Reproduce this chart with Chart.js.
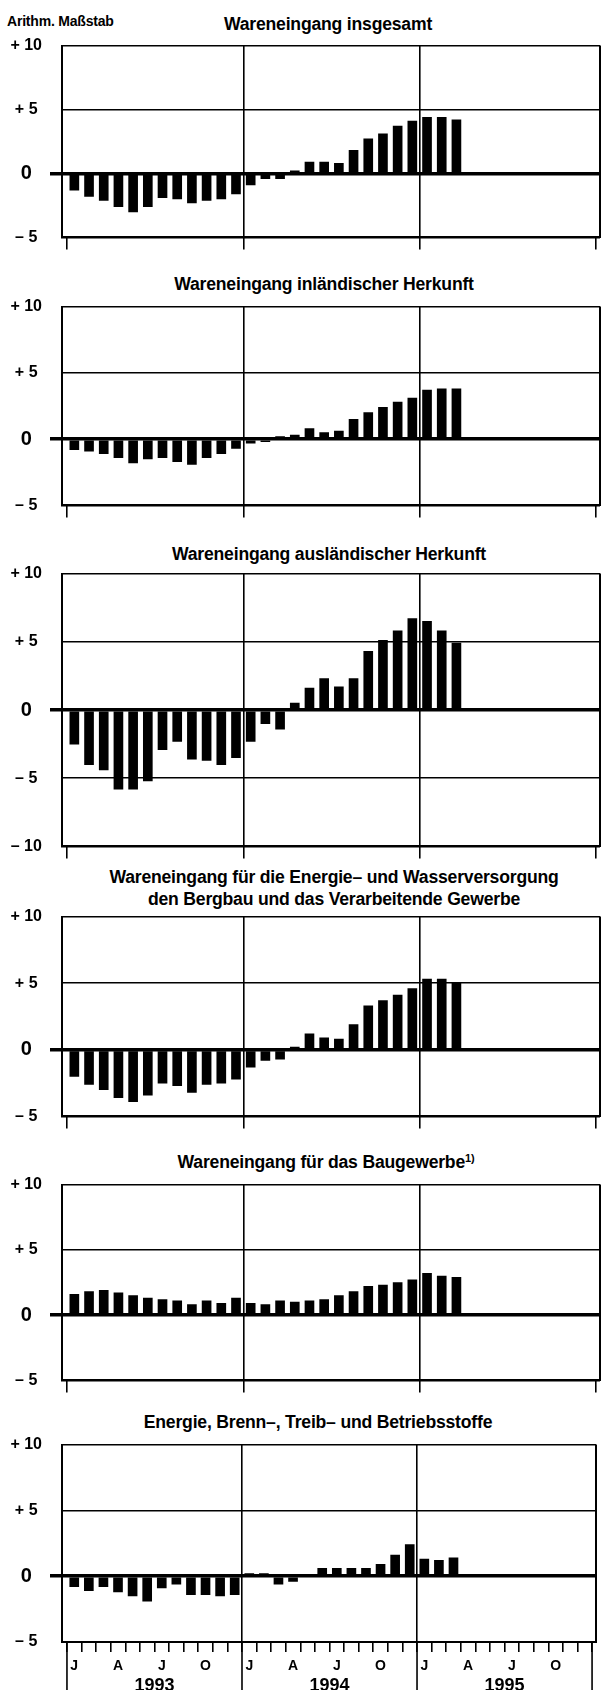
<!DOCTYPE html>
<html lang="de">
<head>
<meta charset="UTF-8">
<title>Wareneingang - Veränderung gegenüber Vorjahr</title>
<script src="https://cdn.jsdelivr.net/npm/chart.js"></script>
<style>
    html, body {
        margin: 0;
        padding: 0;
        background: #fff;
        overflow: hidden;
    }
    body {
        position: relative;
        width: 602px;
        height: 1690px;
        font-family: "Liberation Sans", Arial, sans-serif;
        color: #000;
    }
    .titel {
        position: absolute;
        transform: translate(-50%, -50%);
        font-weight: bold;
        font-size: 17.6px;
        letter-spacing: -0.2px;
        line-height: 21.7px;
        text-align: center;
        white-space: nowrap;
    }
    .titel sup {
        font-size: 11px;
        vertical-align: 6px;
        line-height: 0;
    }
    .massstab {
        position: absolute;
        left: 7px;
        top: 13px;
        font-weight: bold;
        font-size: 14px;
        letter-spacing: -0.2px;
    }
    .panel {
        position: absolute;
        left: 0;
    }
</style>
</head>
<body>
<div class="massstab">Arithm. Maßstab</div>

<script>
// Monate (Kategorien)
const monate = [
    '1993-01', '1993-02', '1993-03', '1993-04', '1993-05', '1993-06',
    '1993-07', '1993-08', '1993-09', '1993-10', '1993-11', '1993-12',
    '1994-01', '1994-02', '1994-03', '1994-04', '1994-05', '1994-06',
    '1994-07', '1994-08', '1994-09', '1994-10', '1994-11', '1994-12',
    '1995-01', '1995-02', '1995-03'
];
const jahre = ['1993', '1994', '1995'];
const monatsBeschriftung = ['J', 'A', 'J', 'O'];

// Veränderung gegenüber Vorjahr in %
const insgesamt = [-1.3, -1.8, -2.1, -2.6, -3.0, -2.6, -1.9, -2.0, -2.3, -2.1, -2.0, -1.6,
                   -0.9, -0.4, -0.4, 0.2, 0.9, 0.9, 0.8, 1.8, 2.7, 3.1, 3.7, 4.1,
                   4.4, 4.4, 4.2];
const inland = [-0.8, -0.9, -1.1, -1.4, -1.8, -1.5, -1.4, -1.7, -1.9, -1.4, -1.1, -0.7,
                -0.3, -0.2, 0.2, 0.3, 0.8, 0.5, 0.6, 1.5, 2.0, 2.4, 2.8, 3.1,
                3.7, 3.8, 3.8];
const ausland = [-2.5, -4.0, -4.4, -5.8, -5.8, -5.2, -2.9, -2.3, -3.6, -3.7, -4.0, -3.5,
                 -2.3, -1.0, -1.4, 0.5, 1.6, 2.3, 1.7, 2.3, 4.3, 5.1, 5.8, 6.7,
                 6.5, 5.8, 4.9];
const energieBergbau = [-2.0, -2.6, -3.0, -3.6, -3.9, -3.4, -2.5, -2.7, -3.2, -2.6, -2.5, -2.2,
                        -1.3, -0.8, -0.7, 0.2, 1.2, 0.9, 0.8, 1.9, 3.3, 3.7, 4.1, 4.6,
                        5.3, 5.3, 5.0];
const baugewerbe = [1.6, 1.8, 1.9, 1.7, 1.5, 1.3, 1.2, 1.1, 0.8, 1.1, 0.9, 1.3,
                    0.9, 0.8, 1.1, 1.0, 1.1, 1.2, 1.5, 1.8, 2.2, 2.3, 2.5, 2.7,
                    3.2, 3.0, 2.9];
const betriebsstoffe = [-0.8, -1.1, -0.8, -1.2, -1.5, -1.9, -0.9, -0.6, -1.4, -1.4, -1.5, -1.4,
                        0.2, 0.2, -0.6, -0.4, 0.1, 0.6, 0.6, 0.6, 0.6, 0.9, 1.6, 2.4,
                        1.3, 1.2, 1.4];

const yTicks = [-10, -5, 0, 5, 10];
const jahresGrenzen = [0, 12, 24, 36];
const jahresMitten = [6, 18, 30];

// Aufbau der sechs Teilgrafiken (Position in px)
const panels = [
    { titel: 'Wareneingang insgesamt', werte: insgesamt, min: -5,
      oben: 42, unten: 239, titelX: 328, titelY: 25 },
    { titel: 'Wareneingang inländischer Herkunft', werte: inland, min: -5,
      oben: 303, unten: 507, titelX: 324, titelY: 285 },
    { titel: 'Wareneingang ausländischer Herkunft', werte: ausland, min: -10,
      oben: 570, unten: 848, titelX: 329, titelY: 555 },
    { titel: 'Wareneingang für die Energie– und Wasserversorgung<br>den Bergbau und das Verarbeitende Gewerbe',
      werte: energieBergbau, min: -5, oben: 913, unten: 1118, titelX: 334, titelY: 889 },
    { titel: 'Wareneingang für das Baugewerbe<sup>1)</sup>', werte: baugewerbe, min: -5,
      oben: 1181, unten: 1382, titelX: 326, titelY: 1163 },
    { titel: 'Energie, Brenn–, Treib– und Betriebsstoffe', werte: betriebsstoffe, min: -5,
      oben: 1441, unten: 1642, titelX: 318, titelY: 1423 }
];

const X_MIN = -0.34;
const X_MAX = 36.27;
const schwarz = '#000';
const leer = 'rgba(0,0,0,0)';

Chart.defaults.font.family = '"Liberation Sans", Arial, sans-serif';
Chart.defaults.color = schwarz;

// Monatsposition auf der x-Achse (Mitte des Monats)
function monatsPosition(m) {
    const [jahr, monat] = m.split('-').map(Number);
    return (jahr - 1993) * 12 + (monat - 1) + 0.5;
}

function xTickWerte() {
    const werte = [X_MIN];
    for (let i = 0; i <= 36; i++) werte.push(i);
    werte.push(X_MAX);
    return werte;
}

// lange Jahrestrennstriche unter der letzten Grafik
const jahresStriche = {
    id: 'jahresStriche',
    afterDraw(chart) {
        const ctx = chart.ctx;
        const sx = chart.scales.x;
        ctx.save();
        ctx.strokeStyle = schwarz;
        ctx.lineWidth = 1.6;
        jahresGrenzen.forEach(v => {
            const px = sx.getPixelForValue(v);
            ctx.beginPath();
            ctx.moveTo(px, chart.chartArea.bottom);
            ctx.lineTo(px, chart.height);
            ctx.stroke();
        });
        ctx.restore();
    }
};

panels.forEach((p, idx) => {
    const letzte = idx === panels.length - 1;

    const t = document.createElement('div');
    t.className = 'titel';
    t.style.left = p.titelX + 'px';
    t.style.top = p.titelY + 'px';
    t.innerHTML = p.titel;
    document.body.appendChild(t);

    const padOben = 14;
    const xHoehe = letzte ? 33 : 16;
    const x2Hoehe = letzte ? 40 : 0;
    const hoehe = padOben + (p.unten - p.oben) + xHoehe + x2Hoehe;

    const wrap = document.createElement('div');
    wrap.className = 'panel';
    wrap.style.top = (p.oben - padOben) + 'px';
    const canvas = document.createElement('canvas');
    canvas.width = 602;
    canvas.height = hoehe;
    canvas.style.width = '602px';
    canvas.style.height = hoehe + 'px';
    wrap.appendChild(canvas);
    document.body.appendChild(wrap);

    const scales = {
        x: {
            type: 'linear',
            min: X_MIN,
            max: X_MAX,
            offset: false,
            afterBuildTicks: ax => { ax.ticks = xTickWerte().map(v => ({ value: v })); },
            afterFit: ax => { ax.height = xHoehe; },
            grid: {
                offset: false,
                drawTicks: true,
                tickLength: letzte ? 10 : 12,
                color: c => {
                    const v = c.tick ? c.tick.value : null;
                    return (v === X_MIN || v === X_MAX || v === 12 || v === 24) ? schwarz : leer;
                },
                lineWidth: c => {
                    const v = c.tick ? c.tick.value : null;
                    return (v === X_MIN || v === X_MAX) ? 2 : 1.6;
                },
                tickColor: c => {
                    const v = c.tick ? c.tick.value : null;
                    if (v === X_MIN || v === X_MAX) return leer;
                    if (letzte) return schwarz;
                    return jahresGrenzen.includes(v) ? schwarz : leer;
                },
                tickWidth: 1.6
            },
            border: { display: true, color: schwarz, width: 2 },
            ticks: {
                display: letzte,
                autoSkip: false,
                maxRotation: 0,
                minRotation: 0,
                labelOffset: 7.3,
                padding: 6,
                font: { size: 14, weight: 'bold' },
                callback: v => (Number.isInteger(v) && v < 36 && v % 3 === 0)
                    ? monatsBeschriftung[(v % 12) / 3] : ''
            }
        },
        y: {
            type: 'linear',
            min: p.min,
            max: 10,
            afterBuildTicks: ax => {
                ax.ticks = yTicks.filter(v => v >= p.min).map(v => ({ value: v }));
            },
            afterFit: ax => { ax.width = 62; },
            grid: {
                color: schwarz,
                lineWidth: c => (c.tick && c.tick.value === 0) ? 3.5 : 1.6,
                drawTicks: true,
                tickLength: 12,
                tickColor: c => (c.tick && c.tick.value === 0) ? schwarz : leer,
                tickWidth: c => (c.tick && c.tick.value === 0) ? 3.5 : 1
            },
            border: { display: true, color: schwarz, width: 2 },
            ticks: {
                crossAlign: 'center',
                padding: 8,
                font: c => ({ size: (c.tick && c.tick.value === 0) ? 20 : 16, weight: 'bold' }),
                callback: v => v > 0 ? '+ ' + v : (v < 0 ? '– ' + Math.abs(v) : '0')
            }
        }
    };

    if (letzte) {
        scales.x2 = {
            type: 'linear',
            position: 'bottom',
            weight: 1,
            min: X_MIN,
            max: X_MAX,
            offset: false,
            afterBuildTicks: ax => { ax.ticks = jahresMitten.map(v => ({ value: v })); },
            afterFit: ax => { ax.height = x2Hoehe; },
            grid: { display: false, drawTicks: false },
            border: { display: false },
            ticks: {
                autoSkip: false,
                maxRotation: 0,
                padding: 0,
                font: { size: 18, weight: 'bold' },
                callback: (v, i) => jahre[i]
            }
        };
    }

    new Chart(canvas, {
        type: 'bar',
        data: {
            datasets: [{
                data: p.werte.map((w, i) => ({ x: monatsPosition(monate[i]), y: w })),
                backgroundColor: schwarz,
                borderWidth: 0,
                barThickness: 9
            }]
        },
        options: {
            responsive: false,
            animation: false,
            layout: { padding: { top: padOben, right: 2, left: 0, bottom: 0 } },
            plugins: {
                legend: { display: false },
                tooltip: { enabled: false },
                title: { display: false }
            },
            scales: scales
        },
        plugins: letzte ? [jahresStriche] : []
    });
});
</script>
</body>
</html>
